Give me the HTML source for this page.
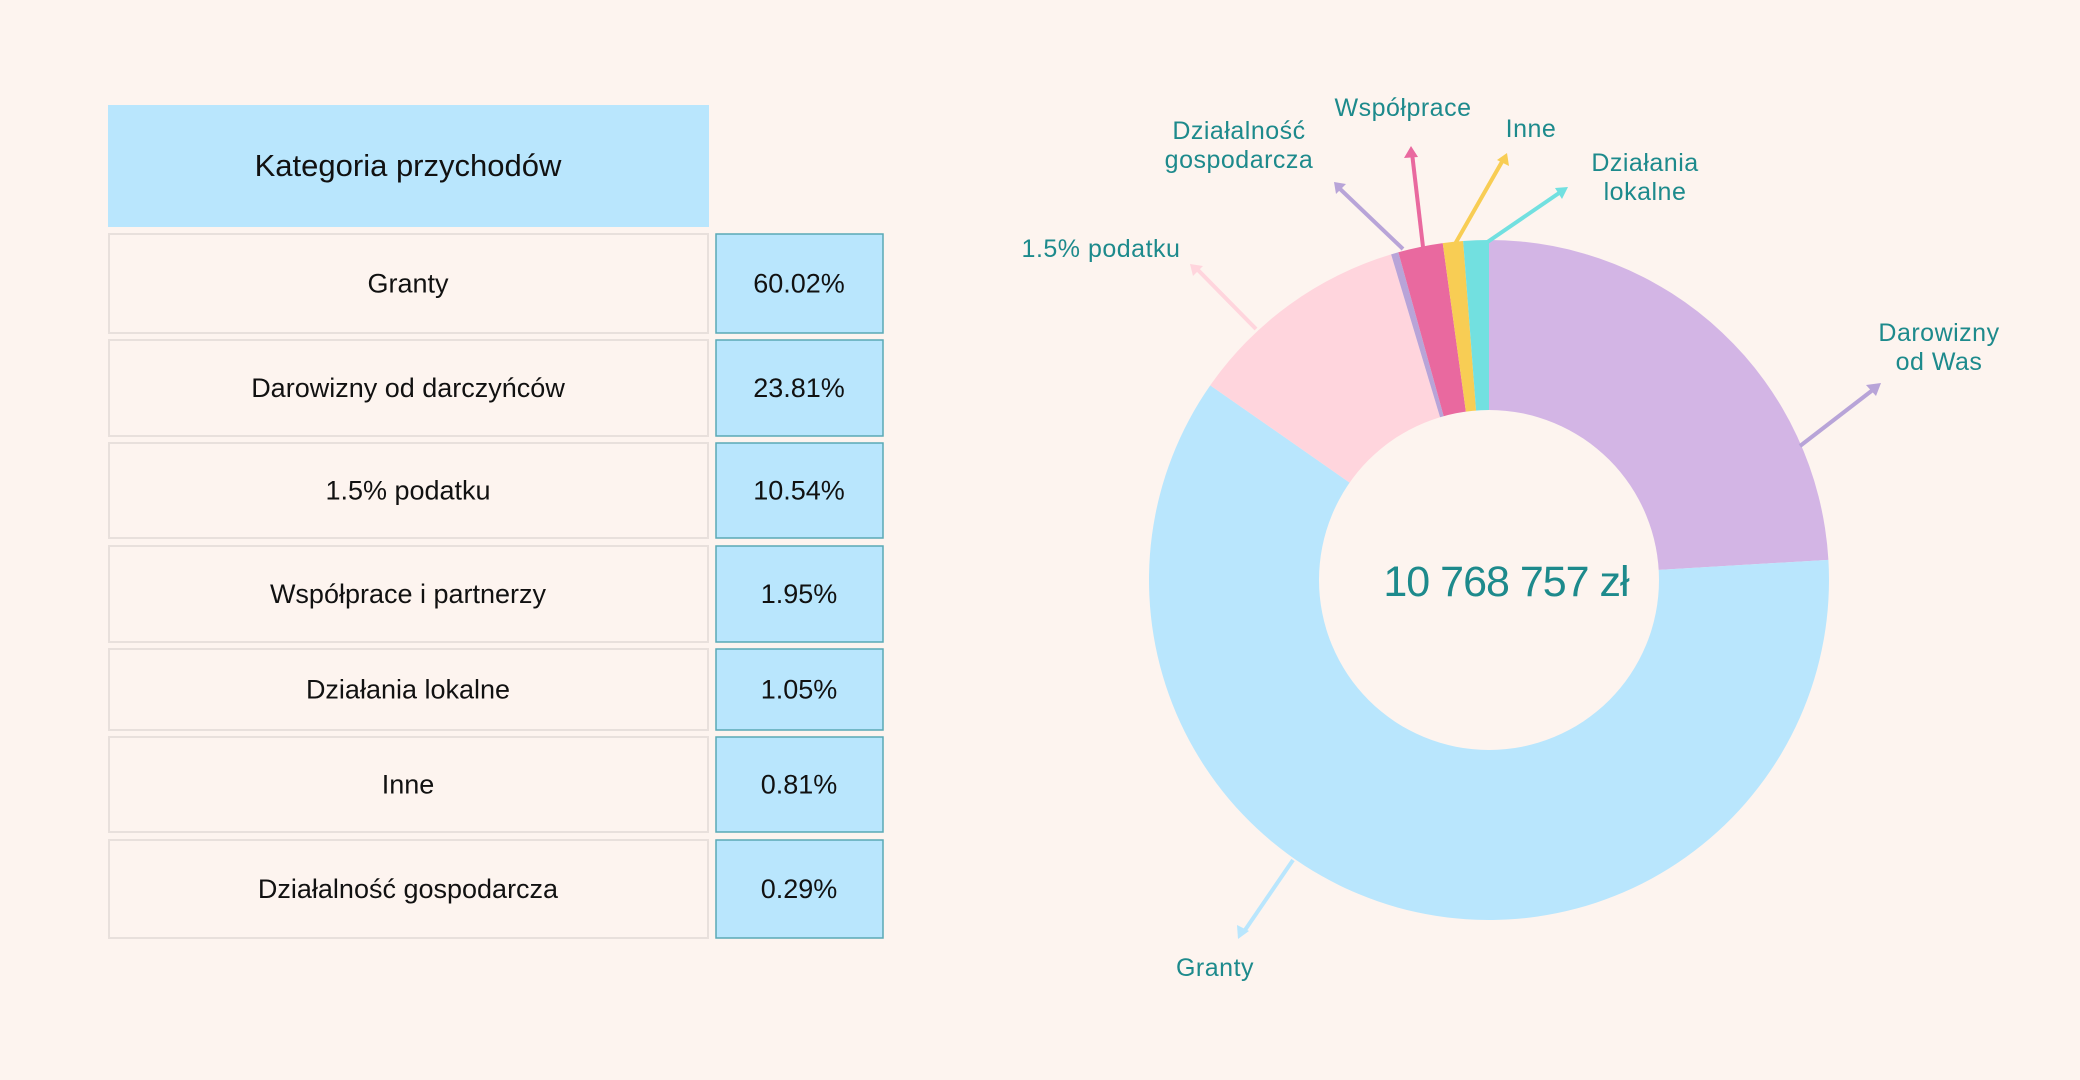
<!DOCTYPE html>
<html><head><meta charset="utf-8"><style>
html,body{margin:0;padding:0;background:#fdf4ef;}
svg{display:block}
.t{font-family:"Liberation Sans",sans-serif;fill:#111;}
.l{font-family:"Liberation Sans",sans-serif;fill:#1d8a8c;font-size:25px;letter-spacing:0.5px}
</style></head><body>
<svg id="s" width="2080" height="1080" viewBox="0 0 2080 1080" xmlns="http://www.w3.org/2000/svg">
<rect width="2080" height="1080" fill="#fdf4ef"/>
<rect x="108" y="105" width="601" height="122" fill="#b9e6fd"/>
<text class="t" x="408" y="176" font-size="31" text-anchor="middle">Kategoria przychodów</text>
<g id="rows"></g>
<g id="pie"></g>
<circle cx="1489" cy="580" r="170" fill="#fdf4ef"/>
<text x="1506" y="596" font-family="Liberation Sans,sans-serif" font-size="43" fill="#1d8a8c" text-anchor="middle" letter-spacing="-1">10 768 757 zł</text>
<g stroke-width="4" fill="none">
<line x1="1800" y1="446" x2="1874" y2="389" stroke="#b8a4d8"/>
<line x1="1293" y1="860" x2="1243" y2="933" stroke="#b9e6fd"/>
<line x1="1256" y1="329" x2="1196" y2="268" stroke="#ffd5dd"/>
<line x1="1403" y1="249" x2="1338" y2="187" stroke="#b8a4d8"/>
<line x1="1423" y1="247" x2="1412" y2="153" stroke="#e9699f"/>
<line x1="1455" y1="244" x2="1503" y2="160" stroke="#f8cd54"/>
<line x1="1486" y1="243" x2="1562" y2="191" stroke="#72e0e0"/>
</g>
<g>
<polygon points="1881,383 1866,385 1876,396" fill="#b8a4d8"/>
<polygon points="1238,939 1237,925 1249,931" fill="#b9e6fd"/>
<polygon points="1190,264 1203,266 1193,276" fill="#ffd5dd"/>
<polygon points="1334,182 1346,184 1336,194" fill="#b8a4d8"/>
<polygon points="1411,146 1404,158 1418,157" fill="#e9699f"/>
<polygon points="1507,153 1497,160 1509,166" fill="#f8cd54"/>
<polygon points="1568,187 1555,188 1562,199" fill="#72e0e0"/>
</g>
<text class="l" x="1939" y="341" text-anchor="middle">Darowizny</text>
<text class="l" x="1939" y="370" text-anchor="middle">od Was</text>
<text class="l" x="1215" y="976" text-anchor="middle">Granty</text>
<text class="l" x="1101" y="257" text-anchor="middle">1.5% podatku</text>
<text class="l" x="1239" y="139" text-anchor="middle">Działalność</text>
<text class="l" x="1239" y="168" text-anchor="middle">gospodarcza</text>
<text class="l" x="1403" y="116" text-anchor="middle">Współprace</text>
<text class="l" x="1531" y="137" text-anchor="middle">Inne</text>
<text class="l" x="1645" y="171" text-anchor="middle">Działania</text>
<text class="l" x="1645" y="200" text-anchor="middle">lokalne</text>
</svg>
<script>
var NS="http://www.w3.org/2000/svg";
var rows=[["Granty","60.02%",234,333],["Darowizny od darczyńców","23.81%",340,436],["1.5% podatku","10.54%",443,538],["Współprace i partnerzy","1.95%",546,642],["Działania lokalne","1.05%",649,730],["Inne","0.81%",737,832],["Działalność gospodarcza","0.29%",840,938]];
var g=document.getElementById("rows"),h="";
rows.forEach(function(r){var y=r[2],hh=r[3]-r[2],cy=y+hh/2+9;
h+='<rect x="109" y="'+y+'" width="599" height="'+hh+'" fill="#fdf4ef" stroke="#e8e0dc" stroke-width="2"/>';
h+='<rect x="716" y="'+y+'" width="167" height="'+hh+'" fill="#b9e6fd" stroke="#5aa9b5" stroke-width="1.5"/>';
h+='<text class="t" x="408" y="'+cy+'" font-size="27" text-anchor="middle">'+r[0]+'</text>';
h+='<text class="t" x="799" y="'+cy+'" font-size="27" text-anchor="middle">'+r[1]+'</text>';});
g.innerHTML=h;
var sl=[[23.81,"#d3b5e5"],[60.02,"#b9e6fd"],[10.54,"#ffd5dd"],[0.35,"#b8a4d8"],[2.1,"#e9699f"],[0.95,"#f8cd54"],[1.2,"#72e0e0"]];
var tot=0;sl.forEach(function(s){tot+=s[0]});
var a=0,cx=1489,cy=580,R=340,p="";
sl.forEach(function(s){var a2=a+s[0]/tot*2*Math.PI;
var x1=cx+R*Math.sin(a),y1=cy-R*Math.cos(a),x2=cx+R*Math.sin(a2),y2=cy-R*Math.cos(a2);
p+='<path d="M'+cx+','+cy+' L'+x1+','+y1+' A'+R+','+R+' 0 '+((a2-a)>Math.PI?1:0)+' 1 '+x2+','+y2+' Z" fill="'+s[1]+'"/>';a=a2;});
document.getElementById("pie").innerHTML=p;
</script>
</body></html>
